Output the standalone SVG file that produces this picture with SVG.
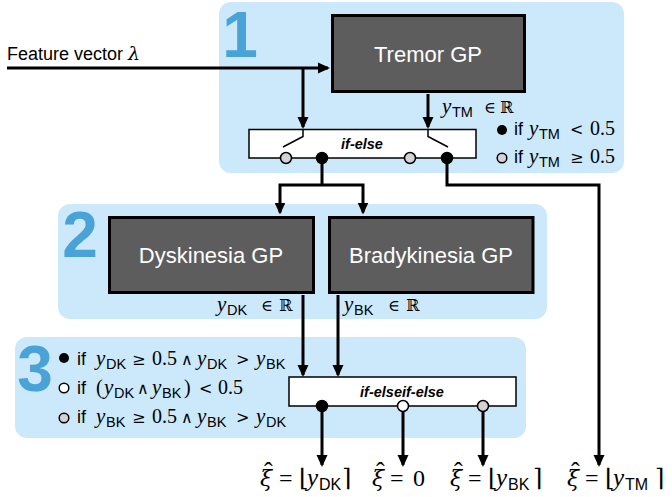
<svg xmlns="http://www.w3.org/2000/svg" width="672" height="497" viewBox="0 0 672 497">
<style>
.panel{fill:#cce9fb}
.digit{font-family:"Liberation Sans",Arial,sans-serif;font-weight:bold;font-size:64px;fill:#4aa3d6;text-anchor:middle}
.gp rect{fill:#5d5d5d;stroke:#000;stroke-width:3}
.gp text{fill:#fff;font-family:"Liberation Sans",Arial,sans-serif;font-size:22px;text-anchor:middle}
.sw rect{fill:#fff;stroke:#000;stroke-width:1.5}
.sw text{font-family:"Liberation Sans",Arial,sans-serif;font-size:14.5px;font-style:italic;font-weight:bold;text-anchor:middle}
.thin{fill:none;stroke:#000;stroke-width:1.5}
.conn path{fill:none;stroke:#000;stroke-width:3}
.dot{stroke:#000;stroke-width:1.5}
.blk{fill:#000}
.gry{fill:#d3d3d3}
.wht{fill:#fff}
.m{font-family:"Liberation Serif","DejaVu Serif",serif;font-size:20px;fill:#000}
.i{font-style:italic;font-size:21px}
.xi{font-family:"DejaVu Serif",serif;font-style:italic;font-size:19px}
.s{font-family:"Liberation Sans",Arial,sans-serif;font-size:14.5px;font-style:normal}
.sf{font-family:"Liberation Sans",Arial,sans-serif;font-size:18px;font-style:normal}
.sy{font-family:"DejaVu Serif",serif;font-size:16px;font-style:normal}
.o{font-family:"Liberation Serif","DejaVu Serif",serif;font-size:24px;fill:#000}
.o .i{font-size:25px}
.o .xi{font-size:22px}
.o .s{font-size:16px}
.o .br{font-family:"DejaVu Serif",serif;font-size:24px;font-style:normal}
.o .hat{font-size:26px;font-style:normal}
</style>
<defs>
<marker id="arr" markerUnits="userSpaceOnUse" markerWidth="12" markerHeight="12" viewBox="0 0 12 12" refX="10" refY="6" orient="auto">
<path d="M0,0.5 L12,6 L0,11.5 z" fill="#000"/>
</marker>
</defs>

<g id="panel1">
<rect class="panel" x="219" y="2" width="405" height="171" rx="12"/>
<text class="digit" x="240" y="57">1</text>
</g>
<g id="panel2">
<rect class="panel" x="58" y="204" width="489" height="115" rx="12"/>
<text class="digit" x="80" y="257">2</text>
</g>
<g id="panel3">
<rect class="panel" x="15" y="337" width="511" height="101" rx="12"/>
<text class="digit" x="35" y="391">3</text>
</g>

<g id="feature-label">
<text class="m" x="7" y="60"><tspan class="sf">Feature vector </tspan><tspan class="xi">λ</tspan></text>
</g>

<g class="conn" id="connectors">
<path d="M7,68 H328" marker-end="url(#arr)"/>
<path d="M303,68 V127" marker-end="url(#arr)"/>
<path d="M428,94 V127" marker-end="url(#arr)"/>
<path d="M322,159 V185"/>
<path d="M321,185 H280 V212.5" marker-end="url(#arr)"/>
<path d="M321,185 H363 V212.5" marker-end="url(#arr)"/>
<path d="M447,159 V185 H599 V465" marker-end="url(#arr)"/>
<path d="M303,295 V375" marker-end="url(#arr)"/>
<path d="M338,295 V375" marker-end="url(#arr)"/>
<path d="M322,406 V465" marker-end="url(#arr)"/>
<path d="M403,406 V465" marker-end="url(#arr)"/>
<path d="M483,406 V465" marker-end="url(#arr)"/>
</g>

<g id="tremor" class="gp">
<rect x="332.5" y="15.5" width="192" height="76"/>
<text x="428" y="62">Tremor GP</text>
</g>
<g id="dyskinesia" class="gp">
<rect x="109.5" y="217.5" width="204" height="75"/>
<text x="211" y="263">Dyskinesia GP</text>
</g>
<g id="bradykinesia" class="gp">
<rect x="329.5" y="217.5" width="203.5" height="75"/>
<text x="431" y="263">Bradykinesia GP</text>
</g>

<g id="if-else" class="sw">
<rect x="249" y="129.5" width="227" height="28.5"/>
<text x="362" y="149">if-else</text>
<path class="thin" d="M303,129.5 V136.5 L283,147 M428,129.5 V136.5 L448,147"/>
<circle class="dot gry" cx="286" cy="158" r="5.5"/>
<circle class="dot blk" cx="322" cy="158" r="5.5"/>
<circle class="dot gry" cx="410" cy="158" r="5.5"/>
<circle class="dot blk" cx="447" cy="158" r="5.5"/>
</g>

<g id="if-elseif-else" class="sw">
<rect x="289" y="377" width="227" height="29"/>
<text x="402" y="397">if-elseif-else</text>
<circle class="dot blk" cx="322" cy="406" r="5.5"/>
<circle class="dot wht" cx="403" cy="406" r="5.5"/>
<circle class="dot gry" cx="483" cy="406" r="5.5"/>
</g>

<g id="labels-1">
<text class="m" y="113"><tspan class="i" x="442">y</tspan><tspan class="s" x="452" y="117">TM</tspan><tspan class="sy" x="484" y="113">∈</tspan><tspan class="sy" x="500">ℝ</tspan></text>
<circle class="blk" cx="502" cy="130" r="5"/>
<text class="m" y="135"><tspan class="sf" x="514">if</tspan><tspan class="i" x="529">y</tspan><tspan class="s" x="539" y="139">TM</tspan><tspan class="sy" x="570" y="135">&lt;</tspan><tspan x="590">0.5</tspan></text>
<circle class="dot gry" cx="502" cy="158" r="4.8"/>
<text class="m" y="163"><tspan class="sf" x="514">if</tspan><tspan class="i" x="529">y</tspan><tspan class="s" x="539" y="167">TM</tspan><tspan class="sy" x="570" y="163">≥</tspan><tspan x="590">0.5</tspan></text>
</g>

<g id="labels-2">
<text class="m" y="311"><tspan class="i" x="217">y</tspan><tspan class="s" x="227" y="315">DK</tspan><tspan class="sy" x="261" y="311">∈</tspan><tspan class="sy" x="279">ℝ</tspan></text>
<text class="m" y="311"><tspan class="i" x="344">y</tspan><tspan class="s" x="354" y="315">BK</tspan><tspan class="sy" x="388" y="311">∈</tspan><tspan class="sy" x="406">ℝ</tspan></text>
</g>

<g id="labels-3">
<circle class="blk" cx="64" cy="358" r="5"/>
<text class="m" y="365"><tspan class="sf" x="77">if</tspan><tspan class="i" x="96">y</tspan><tspan class="s" x="106" y="369">DK</tspan><tspan class="sy" x="132" y="365">≥</tspan><tspan x="152">0.5</tspan><tspan class="sy" x="181">∧</tspan><tspan class="i" x="197">y</tspan><tspan class="s" x="207" y="369">DK</tspan><tspan class="sy" x="236" y="365">&gt;</tspan><tspan class="i" x="256">y</tspan><tspan class="s" x="266" y="369">BK</tspan></text>
<circle class="dot wht" cx="64" cy="388" r="4.8"/>
<text class="m" y="394"><tspan class="sf" x="77">if</tspan><tspan x="96">(</tspan><tspan class="i" x="104">y</tspan><tspan class="s" x="114" y="398">DK</tspan><tspan class="sy" x="137" y="394">∧</tspan><tspan class="i" x="152">y</tspan><tspan class="s" x="162" y="398">BK</tspan><tspan x="184" y="394">)</tspan><tspan class="sy" x="199">&lt;</tspan><tspan x="218">0.5</tspan></text>
<circle class="dot gry" cx="64" cy="418" r="4.8"/>
<text class="m" y="423"><tspan class="sf" x="77">if</tspan><tspan class="i" x="96">y</tspan><tspan class="s" x="106" y="427">BK</tspan><tspan class="sy" x="132" y="423">≥</tspan><tspan x="152">0.5</tspan><tspan class="sy" x="181">∧</tspan><tspan class="i" x="197">y</tspan><tspan class="s" x="207" y="427">BK</tspan><tspan class="sy" x="236" y="423">&gt;</tspan><tspan class="i" x="256">y</tspan><tspan class="s" x="266" y="427">DK</tspan></text>
</g>

<g id="outputs">
<text class="o" y="486"><tspan class="xi" x="260">ξ</tspan><tspan class="hat" x="264" y="480">ˆ</tspan><tspan x="279" y="486">=</tspan><tspan class="br" x="299">⌊</tspan><tspan class="i" x="307">y</tspan><tspan class="s" x="319" y="490">DK</tspan><tspan class="br" x="342" y="486">⌉</tspan></text>
<text class="o" y="486"><tspan class="xi" x="372">ξ</tspan><tspan class="hat" x="376" y="480">ˆ</tspan><tspan x="390" y="486">=</tspan><tspan x="413">0</tspan></text>
<text class="o" y="486"><tspan class="xi" x="450">ξ</tspan><tspan class="hat" x="454" y="480">ˆ</tspan><tspan x="468" y="486">=</tspan><tspan class="br" x="488">⌊</tspan><tspan class="i" x="496">y</tspan><tspan class="s" x="508" y="490">BK</tspan><tspan class="br" x="533" y="486">⌉</tspan></text>
<text class="o" y="486"><tspan class="xi" x="567">ξ</tspan><tspan class="hat" x="571" y="480">ˆ</tspan><tspan x="585" y="486">=</tspan><tspan class="br" x="605">⌊</tspan><tspan class="i" x="613">y</tspan><tspan class="s" x="625" y="490">TM</tspan><tspan class="br" x="655" y="486">⌉</tspan></text>
</g>
</svg>
